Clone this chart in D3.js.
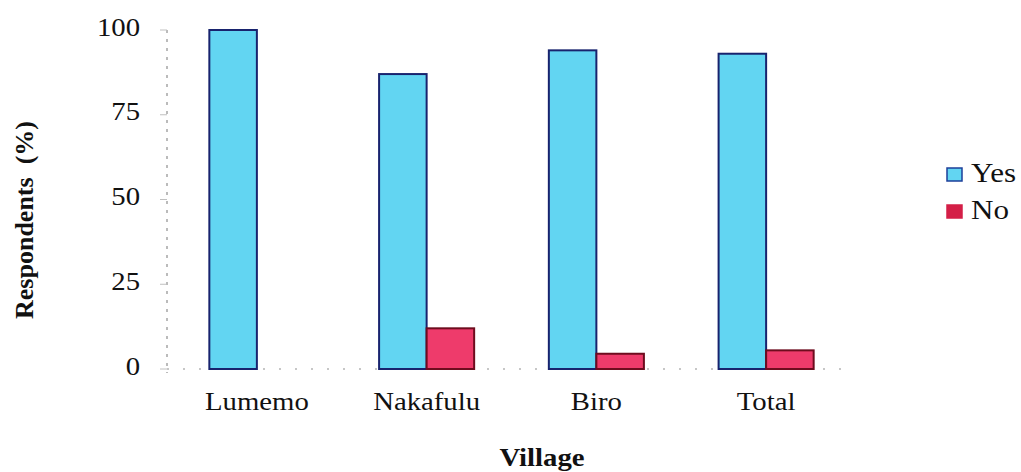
<!DOCTYPE html>
<html lang='en'>

<head>
    <meta charset='utf-8'>
    <title>Respondents by village</title>
    <style>
        body {
            margin: 0;
            background-color: #ffffff;
        }

        svg text {
            font-family: 'Liberation Serif', 'Times New Roman', serif;
            fill: #111111;
        }
    </style>
    <script src='https://d3js.org/d3.v7.min.js' charset='utf-8'></script>
</head>

<body>
    <div id='chart'></div>
    <script type="text/javascript">
        const WIDTH = 1021;
        const HEIGHT = 472;

        // data
        var villages = ['Lumemo', 'Nakafulu', 'Biro', 'Total'];
        var answers = ['Yes', 'No'];
        var yesValues = [100, 87, 94, 93];
        var noValues = [0, 12, 4.5, 5.5];
        var yTicks = [0, 25, 50, 75, 100];

        var fills = { 'Yes': '#62d5f2', 'No': '#ee3b6b' };
        var strokes = { 'Yes': '#18236e', 'No': '#6e0c1e' };
        var STRETCH = 1.15; // the scan is a bit wider than tall

        var rows = villages.map(function (v, i) {
            return { village: v, values: { 'Yes': yesValues[i], 'No': noValues[i] } };
        });

        var svg = d3.select('#chart')
            .append('svg')
            .attr('width', WIDTH)
            .attr('height', HEIGHT);

        var x = d3.scaleBand()
            .domain(villages)
            .range([172, 851])
            .paddingInner(0.44)
            .paddingOuter(0.22);

        var x1 = d3.scaleBand()
            .domain(answers)
            .range([0, x.bandwidth()]);

        var y = d3.scaleLinear()
            .domain([0, 100])
            .range([369, 30]);

        // y axis: dashed grey line with small ticks
        svg.append('line')
            .attr('x1', 167).attr('x2', 167)
            .attr('y1', y(100)).attr('y2', y(0) + 4)
            .attr('stroke', '#a5a5a5')
            .attr('stroke-width', 1.5)
            .attr('stroke-dasharray', '3,6');

        svg.selectAll('.ytick')
            .data(yTicks)
            .enter()
            .append('line')
            .attr('x1', 160).attr('x2', 167)
            .attr('y1', function (d) { return y(d); })
            .attr('y2', function (d) { return y(d); })
            .attr('stroke', '#c0c0c0')
            .attr('stroke-width', 1);

        svg.selectAll('.ylabel')
            .data(yTicks)
            .enter()
            .append('text')
            .attr('transform', function (d) {
                return 'translate(140,' + y(d) + ') scale(' + STRETCH + ',1)';
            })
            .attr('text-anchor', 'end')
            .attr('dominant-baseline', 'middle')
            .attr('font-size', '25px')
            .text(function (d) { return d; });

        // x baseline, faint dotted
        svg.append('line')
            .attr('x1', 167).attr('x2', 850)
            .attr('y1', y(0)).attr('y2', y(0))
            .attr('stroke', '#b5b5b5')
            .attr('stroke-width', 1.5)
            .attr('stroke-dasharray', '2,14');

        // bars
        var groups = svg.selectAll('.group')
            .data(rows)
            .enter()
            .append('g')
            .attr('transform', function (d) { return 'translate(' + x(d.village) + ',0)'; });

        groups.selectAll('rect')
            .data(function (d) {
                return answers.map(function (a) { return { key: a, value: d.values[a] }; })
                    .filter(function (b) { return b.value > 0; });
            })
            .enter()
            .append('rect')
            .attr('x', function (d) { return x1(d.key); })
            .attr('y', function (d) { return y(d.value); })
            .attr('width', x1.bandwidth())
            .attr('height', function (d) { return y(0) - y(d.value); })
            .attr('fill', function (d) { return fills[d.key]; })
            .attr('stroke', function (d) { return strokes[d.key]; })
            .attr('stroke-width', 2);

        // category labels
        svg.selectAll('.xlabel')
            .data(villages)
            .enter()
            .append('text')
            .attr('transform', function (d) {
                return 'translate(' + (x(d) + x.bandwidth() / 2) + ',410) scale(' + STRETCH + ',1)';
            })
            .attr('text-anchor', 'middle')
            .attr('font-size', '25px')
            .text(function (d) { return d; });

        // axis titles
        svg.append('text')
            .attr('transform', 'translate(542,466) scale(' + STRETCH + ',1)')
            .attr('text-anchor', 'middle')
            .attr('font-size', '25px')
            .attr('font-weight', 'bold')
            .text('Village');

        svg.append('text')
            .attr('transform', 'translate(33,220) rotate(-90)')
            .attr('text-anchor', 'middle')
            .attr('font-size', '26px')
            .attr('font-weight', 'bold')
            .attr('xml:space', 'preserve')
            .text('Respondents  (%)');

        // legend
        var legend = svg.selectAll('.legend')
            .data(answers)
            .enter()
            .append('g')
            .attr('transform', function (d, i) { return 'translate(947,' + (168 + i * 37) + ')'; });

        legend.append('rect')
            .attr('width', 15)
            .attr('height', 13)
            .attr('fill', function (d) { return d === 'Yes' ? fills[d] : '#d41f47'; })
            .attr('stroke', function (d) { return d === 'Yes' ? '#1d3f9a' : '#d41f47'; })
            .attr('stroke-width', 1.5);

        legend.append('text')
            .attr('transform', 'translate(24,14) scale(' + STRETCH + ',1)')
            .attr('font-size', '27px')
            .text(function (d) { return d; });
    </script>
</body>

</html>
